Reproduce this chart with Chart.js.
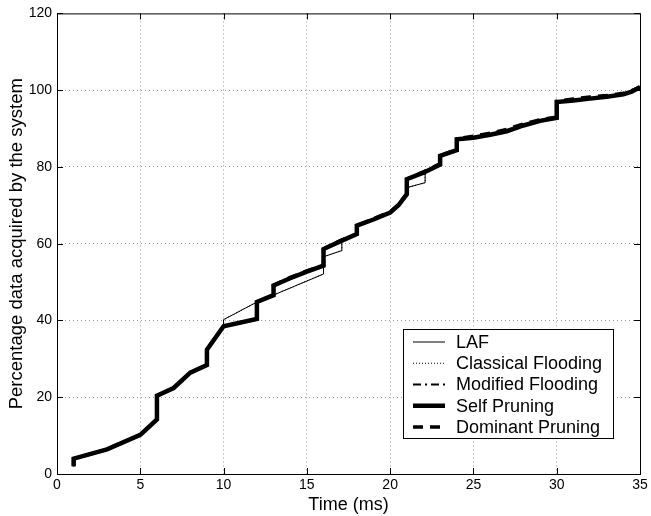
<!DOCTYPE html>
<html>
<head>
<meta charset="utf-8">
<script src="https://cdn.jsdelivr.net/npm/chart.js@4.4.0/dist/chart.umd.min.js"></script>
<style>
  html, body { margin: 0; padding: 0; background: #fff; }
  canvas { display: block; }
</style>
</head>
<body>
<canvas id="chart" width="651" height="516"></canvas>
<script>
// values (time in ms, percentage acquired)
const selfT = [1, 1, 3, 5, 6, 6, 7, 8, 9, 9, 10, 12, 12, 13, 13, 14, 15, 16, 16, 17, 18, 18, 19, 20, 20.5, 21, 21, 22, 23, 23, 24, 24, 25, 26, 27, 28, 29, 30, 30, 31, 32, 33, 34, 34.5, 35];
const selfV = [2, 4, 6.4, 10.2, 14.2, 20.4, 22.4, 26.4, 28.4, 32.4, 38.5, 40.4, 44.8, 46.6, 49.1, 51, 52.7, 54.3, 58.6, 60.6, 62.5, 64.7, 66.3, 68.1, 70, 72.9, 76.8, 78.5, 80.6, 82.9, 84.4, 87.2, 87.6, 88.4, 89.3, 90.8, 92, 92.8, 96.9, 97.3, 97.8, 98.3, 98.9, 99.6, 100.8];

const domT = [1, 1, 3, 5, 6, 6, 7, 8, 9, 9, 10, 12, 12, 13, 13, 14, 15, 16, 16, 17, 18, 18, 19, 20, 20.5, 21, 21, 22, 23, 23, 24, 24, 25, 26, 27, 28, 29, 30, 30, 31, 32, 33, 34, 34.5, 35];
const domV = [2, 4, 6.4, 10.2, 14.2, 20.4, 22.4, 26.4, 28.4, 32.4, 38.5, 40.4, 44.8, 46.6, 49.1, 51.2, 52.9, 54.3, 58.6, 60.8, 62.5, 64.7, 66.5, 68.3, 70.2, 72.9, 76.8, 78.7, 80.8, 82.9, 84.6, 87.4, 88, 88.8, 89.8, 91.2, 92.3, 93, 97.1, 97.7, 98.2, 98.6, 99.2, 99.9, 100.8];

const lafT = [1, 1, 3, 5, 6, 6, 7, 8, 9, 9, 10, 10, 12, 16, 16, 17.1, 17.1, 18, 18, 19, 20, 20.5, 21, 21, 22.1, 22.1, 23, 23, 24, 24, 25, 26, 27, 28, 29, 30, 30, 31, 32, 33, 34, 34.5, 35];
const lafV = [2, 4, 6.4, 10.2, 14.2, 20.4, 22.4, 26.4, 28.4, 32.4, 38.5, 40.2, 44.8, 52.1, 56.6, 58.2, 60.7, 62.5, 64.7, 66.3, 68.1, 70, 72.9, 74.6, 75.9, 78.6, 80.6, 82.9, 84.4, 87.2, 87.6, 88.4, 89.3, 90.8, 92, 92.8, 96.9, 97.3, 97.8, 98.3, 98.9, 99.6, 100.8];

const xTicks = [0, 5, 10, 15, 20, 25, 30, 35];
const yTicks = [0, 20, 40, 60, 80, 100, 120];

const pts = (t, v) => t.map((x, i) => ({ x: x, y: v[i] }));
const font = '"Liberation Sans", Arial, Helvetica, sans-serif';

// matlab style box legend drawn inside the axes
const boxLegend = {
    id: 'boxLegend',
    afterDraw(chart) {
        const { ctx, chartArea } = chart;
        const w = 210, h = 109;
        const x0 = chartArea.right - 27 - w;
        const y0 = chartArea.bottom - 36 - h;
        ctx.save();
        ctx.fillStyle = '#fff';
        ctx.fillRect(x0, y0, w, h);
        ctx.strokeStyle = '#000';
        ctx.lineWidth = 1;
        ctx.strokeRect(x0 + 0.5, y0 + 0.5, w, h);
        ctx.font = '18px ' + font;
        ctx.textBaseline = 'middle';
        ctx.fillStyle = '#000';
        chart.data.datasets.forEach((ds, i) => {
            const y = y0 + 13 + i * 21.25;
            ctx.beginPath();
            ctx.lineWidth = ds.borderWidth;
            ctx.setLineDash(ds.legendDash || ds.borderDash || []);
            ctx.moveTo(x0 + 10, y);
            ctx.lineTo(x0 + 42, y);
            ctx.stroke();
            ctx.setLineDash([]);
            ctx.fillText(ds.label, x0 + 53, y + 1);
        });
        ctx.restore();
    }
};

// frame + inward ticks on all four sides
const frame = {
    id: 'frame',
    afterDatasetsDraw(chart) {
        const { ctx, chartArea: a, scales } = chart;
        ctx.save();
        ctx.strokeStyle = '#000';
        ctx.lineWidth = 1;
        ctx.strokeRect(a.left + 0.5, a.top + 0.5, a.right - a.left, a.bottom - a.top);
        ctx.beginPath();
        xTicks.forEach(t => {
            const px = Math.round(scales.x.getPixelForValue(t)) + 0.5;
            ctx.moveTo(px, a.bottom); ctx.lineTo(px, a.bottom - 6);
            ctx.moveTo(px, a.top); ctx.lineTo(px, a.top + 6);
        });
        yTicks.forEach(v => {
            const py = Math.round(scales.y.getPixelForValue(v)) + 0.5;
            ctx.moveTo(a.left, py); ctx.lineTo(a.left + 6, py);
            ctx.moveTo(a.right, py); ctx.lineTo(a.right - 6, py);
        });
        ctx.stroke();
        ctx.restore();
    }
};

const gridColor = (c, lo, hi) => (c.tick && (c.tick.value === lo || c.tick.value === hi)) ? 'rgba(0,0,0,0)' : '#999';

new Chart(document.getElementById('chart').getContext('2d'), {
    type: 'scatter',
    data: {
        datasets: [{
            label: 'LAF',
            data: pts(lafT, lafV),
            borderColor: '#000',
            borderWidth: 1,
        }, {
            label: 'Classical Flooding',
            data: pts(lafT, lafV),
            borderColor: '#000',
            borderWidth: 1,
            borderDash: [1, 2],
        }, {
            label: 'Modified Flooding',
            data: pts(selfT, selfV),
            borderColor: '#000',
            borderWidth: 2,
            borderDash: [8, 3, 2, 3],
            legendDash: [8, 4, 2, 4],
        }, {
            label: 'Self Pruning',
            data: pts(selfT, selfV),
            borderColor: '#000',
            borderWidth: 4.5,
        }, {
            label: 'Dominant Pruning',
            data: pts(domT, domV),
            borderColor: '#000',
            borderWidth: 3.5,
            borderDash: [10, 7],
        }].map(d => Object.assign({ showLine: true, pointRadius: 0, pointHoverRadius: 0, tension: 0, fill: false }, d))
    },
    options: {
        responsive: false,
        animation: false,
        devicePixelRatio: 1,
        layout: { padding: { top: 11, right: 11, left: 0, bottom: 0 } },
        plugins: {
            legend: { display: false },
            tooltip: { enabled: false }
        },
        scales: {
            x: {
                type: 'linear',
                min: 0,
                max: 35,
                afterFit: s => { s.height = 42; },
                afterBuildTicks: s => { s.ticks = xTicks.map(v => ({ value: v })); },
                ticks: { color: '#000', font: { family: font, size: 14 }, padding: 3, maxRotation: 0 },
                grid: { color: c => gridColor(c, 0, 35), drawTicks: false, lineWidth: 1 },
                border: { display: false, dash: [1, 3] },
                title: { display: true, text: 'Time (ms)', color: '#000', font: { family: font, size: 18 }, padding: { top: 0, bottom: 0 } }
            },
            y: {
                type: 'linear',
                min: 0,
                max: 120,
                afterFit: s => { s.width = 57; },
                afterBuildTicks: s => { s.ticks = yTicks.map(v => ({ value: v })); },
                ticks: { color: '#000', font: { family: font, size: 14 }, padding: 5 },
                grid: { color: c => gridColor(c, 0, 120), drawTicks: false, lineWidth: 1 },
                border: { display: false, dash: [1, 3] },
                title: { display: true, text: 'Percentage data acquired by the system', color: '#000', font: { family: font, size: 18.5 }, padding: { top: 6, bottom: 0 } }
            }
        }
    },
    plugins: [frame, boxLegend]
});
</script>
</body>
</html>
